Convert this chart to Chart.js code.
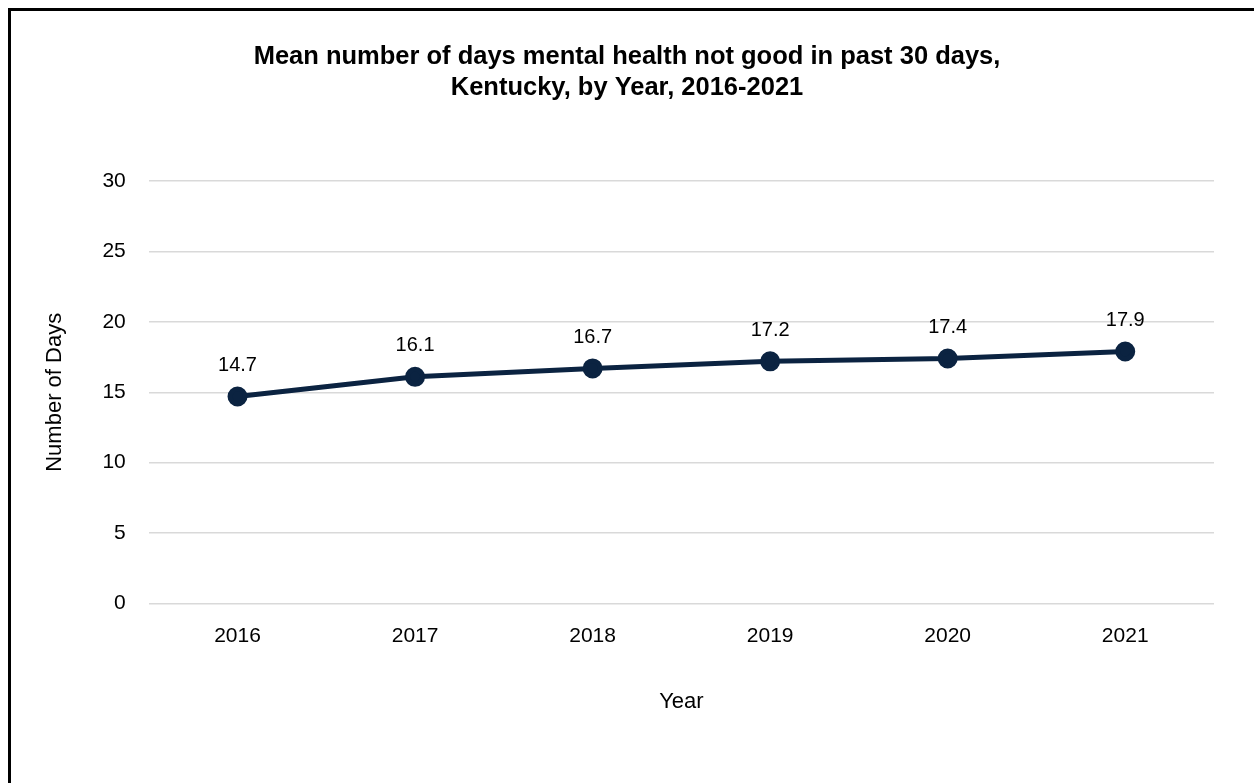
<!DOCTYPE html>
<html>
<head>
<meta charset="utf-8">
<script src="https://cdn.jsdelivr.net/npm/chart.js@4/dist/chart.umd.min.js"></script>
<style>
  html, body { margin: 0; padding: 0; background: #fff; }
  #frame { position: absolute; left: 8px; top: 8px; width: 1246px; height: 775px;
           border-top: 3px solid #000; border-left: 3px solid #000; box-sizing: border-box; }
  #chart { position: absolute; left: 0; top: 0; }
</style>
</head>
<body>
<div id="frame"></div>
<canvas id="chart" width="1254" height="783"></canvas>
<script>
// data
const years = ['2016', '2017', '2018', '2019', '2020', '2021'];
const meanDays = [14.7, 16.1, 16.7, 17.2, 17.4, 17.9];
const yTicks = [0, 5, 10, 15, 20, 25, 30];

const FONT = "'Liberation Sans', Arial, sans-serif";
const navy = '#0b2341';

// simple value labels above each point
const pointLabels = {
  id: 'pointLabels',
  afterDatasetsDraw(chart) {
    const ctx = chart.ctx;
    const meta = chart.getDatasetMeta(0);
    ctx.save();
    ctx.font = '20px ' + FONT;
    ctx.fillStyle = '#000';
    ctx.textAlign = 'center';
    ctx.textBaseline = 'middle';
    meta.data.forEach((pt, i) => {
      ctx.fillText(meanDays[i].toFixed(1), pt.x, pt.y - 31);
    });
    ctx.restore();
  }
};

new Chart(document.getElementById('chart').getContext('2d'), {
  type: 'line',
  data: {
    labels: years,
    datasets: [{
      data: meanDays,
      borderColor: navy,
      backgroundColor: navy,
      borderWidth: 5,
      pointRadius: 7.5,
      pointHoverRadius: 7.5,
      tension: 0
    }]
  },
  options: {
    responsive: false,
    animation: false,
    layout: { padding: { left: 40, right: 40, top: 41, bottom: 68 } },
    plugins: {
      legend: { display: false },
      tooltip: { enabled: false },
      title: {
        display: true,
        text: ['Mean number of days mental health not good in past 30 days,', 'Kentucky, by Year, 2016-2021'],
        color: '#000',
        font: { family: FONT, size: 25.5, weight: 'bold', lineHeight: 1.22 },
        padding: { top: 0, bottom: 78 }
      }
    },
    scales: {
      x: {
        offset: true,
        grid: { display: false },
        border: { display: false },
        ticks: { color: '#000', font: { family: FONT, size: 21 }, padding: 12 },
        title: { display: true, text: 'Year', color: '#000', font: { family: FONT, size: 22 }, padding: { top: 28, bottom: 0 } }
      },
      y: {
        min: 0, max: 30,
        afterBuildTicks(axis) { axis.ticks = yTicks.map(v => ({ value: v })); },
        grid: { color: '#d9d9d9', lineWidth: 1.5, drawTicks: false },
        border: { display: false },
        ticks: { color: '#000', font: { family: FONT, size: 21 }, padding: 23 },
        title: { display: true, text: 'Number of Days', color: '#000', font: { family: FONT, size: 22 }, padding: { top: 2, bottom: 11 } }
      }
    }
  },
  plugins: [pointLabels]
});
</script>
</body>
</html>
